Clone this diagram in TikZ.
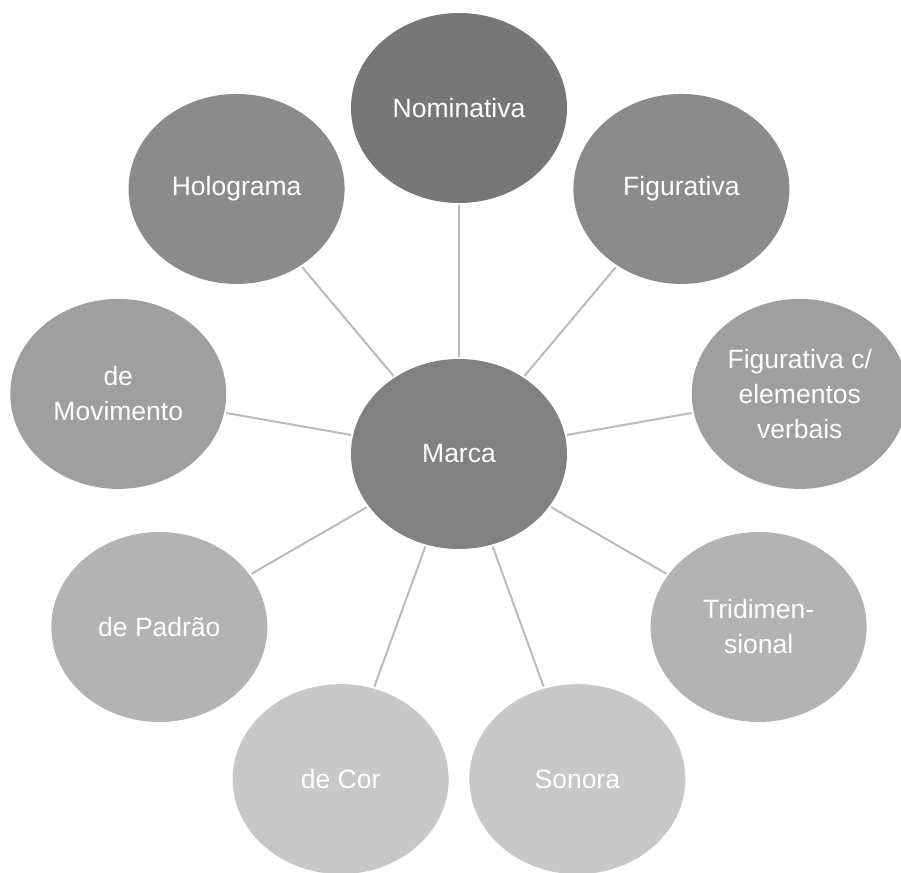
\documentclass[tikz,border=0pt]{standalone}
\usepackage{fontspec}
\setmainfont{Liberation Sans}
\usetikzlibrary{shapes.geometric}
\definecolor{toneA}{HTML}{777777}
\definecolor{toneB}{HTML}{8B8B8B}
\definecolor{toneC}{HTML}{9F9F9F}
\definecolor{toneD}{HTML}{B3B3B3}
\definecolor{toneE}{HTML}{C8C8C8}
\definecolor{hubgray}{HTML}{818181}
\definecolor{spokegray}{HTML}{BBBBBB}
\tikzset{
  bubble/.style = {ellipse, minimum width = 216pt, minimum height = 190pt, inner sep = 0pt,
                   text = white, align = center, font = \fontsize{26.5}{35}\selectfont},
  spoke/.style = {draw = spokegray, line width = 2pt, shorten <= 2pt, shorten >= 2pt}
}

\begin{document}
\begin{tikzpicture}[x = 1pt, y = 1pt]
        \useasboundingbox (-459,-418) rectangle (442,454);
        \clip (-459,-418) rectangle (442,454);
        \node[bubble, fill = hubgray] (marca) at (0,0) {Marca};
        \node[bubble, fill = toneA] (nominativa) at (90:346pt) {Nominativa};
        \node[bubble, fill = toneB] (figurativa) at (50:346pt) {Figurativa};
        \node[bubble, fill = toneC] (verbais) at (10:346pt) {Figurativa c/\\elementos\\verbais};
        \node[bubble, fill = toneD] (tridim) at (-30:346pt) {Tridimen-\\sional};
        \node[bubble, fill = toneE] (sonora) at (-70:346pt) {Sonora};
        \node[bubble, fill = toneE] (cor) at (-110:346pt) {de Cor};
        \node[bubble, fill = toneD] (padrao) at (-150:346pt) {de Padrão};
        \node[bubble, fill = toneC] (movimento) at (170:346pt) {de\\Movimento};
        \node[bubble, fill = toneB] (holograma) at (130:346pt) {Holograma};
        \draw[spoke] (marca) -- (nominativa);
        \draw[spoke] (marca) -- (figurativa);
        \draw[spoke] (marca) -- (verbais);
        \draw[spoke] (marca) -- (tridim);
        \draw[spoke] (marca) -- (sonora);
        \draw[spoke] (marca) -- (cor);
        \draw[spoke] (marca) -- (padrao);
        \draw[spoke] (marca) -- (movimento);
        \draw[spoke] (marca) -- (holograma);
    \end{tikzpicture}
\end{document}
